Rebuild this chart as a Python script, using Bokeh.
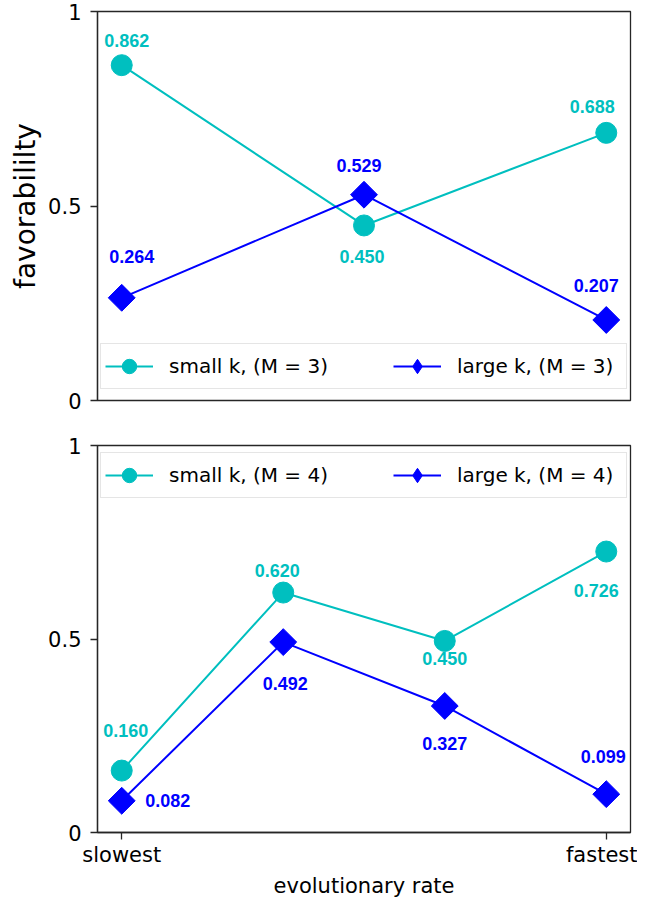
import numpy as np
from bokeh.plotting import figure
from bokeh.models import (Range1d, FixedTicker, ColumnDataSource, Legend, LegendItem)
from bokeh.layouts import column
from bokeh.core.properties import value
from bokeh.embed import file_html
from bokeh.resources import INLINE

# ---------------- data ----------------
x_top = [0, 1.5, 3]
top_small = [0.862, 0.450, 0.688]
top_large = [0.264, 0.529, 0.207]
top_small_labels = ["0.862", "0.450", "0.688"]
top_large_labels = ["0.264", "0.529", "0.207"]

x_bottom = [0, 1, 2, 3]
bottom_small = [0.160, 0.620, 0.495, 0.726]
bottom_large = [0.082, 0.492, 0.327, 0.099]
bottom_small_labels = ["0.160", "0.620", "0.450", "0.726"]
bottom_large_labels = ["0.082", "0.492", "0.327", "0.099"]

y_ticks = [0, 0.5, 1]
y_tick_labels = ["0", "0.5", "1"]
x_ticks = [0, 3]
x_tick_labels = ["slowest", "fastest"]

legend_top = ["small k, (M = 3)", "large k, (M = 3)"]
legend_bottom = ["small k, (M = 4)", "large k, (M = 4)"]

# label offsets in screen pixels (style only)
off_top_small = [(5, -25), (-2, 31), (-14, -26)]
off_top_large = [(10, -41), (-5, -29), (-10, -34)]
off_bot_small = [(4, -40), (-6, -22), (0, 18), (-10, 39)]
off_bot_large = [(46, 0), (2, 41), (0, 38), (-3, -38)]

CYAN = "#00BFBF"
BLUE = "#0000FF"
FRAME = "#262626"
TICK_FONT = "21px"


def style(p, show_x):
    p.grid.visible = False
    p.outline_line_color = FRAME
    p.outline_line_width = 1.3
    p.yaxis.ticker = FixedTicker(ticks=y_ticks)
    p.yaxis.major_label_overrides = {t: l for t, l in zip(y_ticks, y_tick_labels)}
    for ax in (p.yaxis[0], p.xaxis[0]):
        ax.axis_line_color = FRAME
        ax.axis_line_width = 1.3
        ax.major_tick_line_color = FRAME
        ax.major_tick_line_width = 1.3
        ax.major_tick_in = 0
        ax.major_tick_out = 7
        ax.minor_tick_line_color = None
        ax.major_label_text_font = "DejaVu Sans"
        ax.major_label_text_font_size = TICK_FONT
        ax.major_label_text_color = "black"
        ax.axis_label_text_font = "DejaVu Sans"
        ax.axis_label_text_font_style = "normal"
        ax.axis_label_text_color = "black"
    p.yaxis.major_label_standoff = 9
    if show_x:
        p.xaxis.ticker = FixedTicker(ticks=x_ticks)
        p.xaxis.major_label_overrides = {t: l for t, l in zip(x_ticks, x_tick_labels)}
        p.xaxis.major_label_standoff = 3
        p.xaxis.axis_label = "evolutionary rate"
        p.xaxis.axis_label_text_font_size = "21px"
        p.xaxis.axis_label_standoff = 4
    else:
        p.xaxis.visible = False


def add_series(p, xs, small, large, small_lab, large_lab, off_s, off_l, legend_labels, loc):
    ls = p.line(xs, small, line_color=CYAN, line_width=2)
    ms = p.scatter(xs, small, marker="circle", size=21, fill_color=CYAN, line_color=CYAN)
    ll = p.line(xs, large, line_color=BLUE, line_width=2)
    # diamond glyph used by the legend; fully covered by the rotated squares below
    ml = p.scatter(xs, large, marker="diamond", size=20, fill_color=BLUE, line_color=BLUE)
    p.scatter(xs, large, marker="square", angle=np.pi / 4, size=19,
              fill_color=BLUE, line_color=BLUE)
    for vals, labs, offs, col in ((small, small_lab, off_s, CYAN), (large, large_lab, off_l, BLUE)):
        src = ColumnDataSource(dict(x=xs, y=vals, t=labs,
                                    dx=[o[0] for o in offs], dy=[o[1] for o in offs]))
        p.text(x="x", y="y", text="t", x_offset="dx", y_offset="dy", source=src,
               text_color=col, text_font=value("Liberation Sans"), text_font_style="bold",
               text_font_size="18px", text_align="center", text_baseline="middle")
    leg = Legend(items=[LegendItem(label=legend_labels[0], renderers=[ls, ms]),
                        LegendItem(label=legend_labels[1], renderers=[ll, ml])],
                 orientation="horizontal", location=loc, margin=0, padding=4,
                 glyph_width=48, glyph_height=36, label_standoff=16, spacing=59,
                 label_width=165,
                 label_text_font="DejaVu Sans", label_text_font_size="20px",
                 label_text_color="black",
                 border_line_color="#cccccc", border_line_width=1,
                 background_fill_alpha=0.8)
    p.add_layout(leg)


top = figure(width=637, height=420, x_range=Range1d(-0.15, 3.15), y_range=Range1d(0, 1),
             output_backend="svg", toolbar_location=None,
             min_border_left=97, min_border_right=7, min_border_top=11, min_border_bottom=20)
style(top, show_x=False)
top.yaxis.axis_label = "favorabililty"
top.yaxis.axis_label_text_font_size = "28px"
top.yaxis.axis_label_standoff = 3
add_series(top, x_top, top_small, top_large, top_small_labels, top_large_labels,
           off_top_small, off_top_large, legend_top, (3, 11))

bottom = figure(width=637, height=480, x_range=top.x_range, y_range=Range1d(0, 1),
                output_backend="svg", toolbar_location=None,
                min_border_left=97, min_border_right=7, min_border_top=25, min_border_bottom=66)
style(bottom, show_x=True)
add_series(bottom, x_bottom, bottom_small, bottom_large, bottom_small_labels, bottom_large_labels,
           off_bot_small, off_bot_large, legend_bottom, (3, 334))

layout = column(top, bottom, spacing=0)
open("out.html", "w").write(file_html(layout, INLINE))
